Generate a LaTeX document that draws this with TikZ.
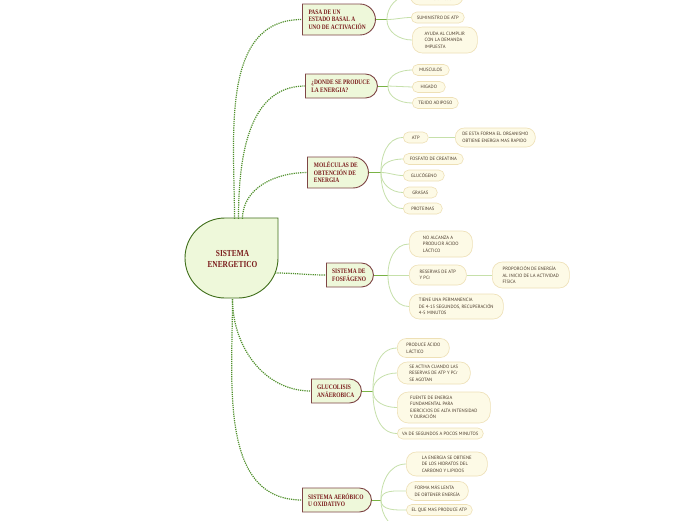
\documentclass[tikz,border=0pt]{standalone}
\usepackage{fontspec}
\setmainfont{PT Sans}
\newfontfamily\topicfont[FakeStretch=0.8]{Liberation Serif}
\usetikzlibrary{shapes.misc}

\definecolor{dotgreen}{HTML}{4F8F2A}
\definecolor{stemgreen}{HTML}{7AB345}
\definecolor{twiggreen}{HTML}{C6E0AA}
\definecolor{topicfill}{HTML}{EEF8DA}
\definecolor{topicline}{HTML}{7E4545}
\definecolor{topictext}{HTML}{7B1C1C}
\definecolor{coreline}{HTML}{3F6E1A}
\definecolor{leaffill}{HTML}{FDFAE6}
\definecolor{leafline}{HTML}{EEE0B6}
\definecolor{leaftext}{HTML}{4A3A2A}

\begin{document}
\begin{tikzpicture}[x=1pt, y=1pt,
    topic/.style={rounded rectangle, rounded rectangle west arc=none, draw=topicline, fill=topicfill, line width=0.9pt, align=left, anchor=west, font=\topicfont\bfseries\fontsize{6.8}{7.6}\selectfont, text=topictext, inner xsep=5pt, minimum height=24pt},
    leaf/.style={draw=leafline, fill=leaffill, line width=0.6pt, rounded corners=#1, align=left, anchor=west, font=\fontsize{4.7}{6.4}\selectfont, text=leaftext, inner sep=2pt, minimum height=11pt},
    leaf/.default=5.5pt,
    link/.style={dotgreen, line width=1.2pt, dash pattern=on 1.2pt off 1pt},
    stem/.style={stemgreen, line width=1pt},
    twig/.style={twiggreen, line width=0.8pt}
  ]
    \useasboundingbox (0,0) rectangle (696,-520);
    \fill[white] (0,0) rectangle (696,-520);
    \clip (0,0) rectangle (696,-520);

    % centre
    \draw[fill=topicfill, draw=coreline, line width=0.9pt] (278,-218) -- (278,-258) arc[start angle=0, end angle=-90, radius=40] -- (225,-298) arc[start angle=270, end angle=180, radius=40] arc[start angle=180, end angle=90, radius=40] -- cycle;
    \node[font=\topicfont\bfseries\fontsize{9.2}{10.5}\selectfont, text=topictext, align=center, minimum width=93pt, minimum height=80pt] (core) at (232.5,-259) {SISTEMA\\ENERGETICO};

    % main branches
    \node[topic, minimum width=83pt, minimum height=31pt] (pasa) at (302,-19.5) {PASA DE UN\\ESTADO BASAL A\\UNO DE ACTIVACIÓN};
    \node[topic, minimum width=82pt] (donde) at (305,-86) {¿DONDE SE PRODUCE\\LA ENERGIA?};
    \node[topic, minimum width=71pt, minimum height=31pt] (molec) at (307,-172.5) {MOLÉCULAS DE\\OBTENCIÓN DE\\ENERGIA};
    \node[topic, minimum width=57pt] (fosf) at (326,-275) {SISTEMA DE\\FOSFÁGENO};
    \node[topic, minimum width=60pt] (gluco) at (311,-391) {GLUCOLISIS\\ANÁEROBICA};
    \node[topic, minimum width=79pt] (aerob) at (302,-500) {SISTEMA AERÓBICO\\U OXIDATIVO};

    \coordinate (bpasa) at ([xshift=11pt]pasa.east);
    \coordinate (bdonde) at ([xshift=10pt]donde.east);
    \coordinate (bmolec) at ([xshift=12pt]molec.east);
    \coordinate (bfosf) at ([xshift=14pt]fosf.east);
    \coordinate (bgluco) at ([xshift=11pt]gluco.east);
    \coordinate (baerob) at ([xshift=9pt]aerob.east);

    % leaves
    \node[leaf=9pt, minimum width=53pt, minimum height=19pt] (cambios) at (410,4.5) {CAMBIOS FÍSICOS\\Y METABÓLICOS};
    \node[leaf, minimum width=53pt] (sumin) at (411,-17.5) {SUMINISTRO DE ATP};
    \node[leaf=10pt, minimum width=65pt, minimum height=26pt] (ayuda) at (412,-40) {AYUDA AL CUMPLIR\\CON LA DEMANDA\\IMPUESTA};

    \node[leaf, minimum width=37pt] (musc) at (412,-70) {MUSCULOS};
    \node[leaf, minimum width=33pt] (higado) at (412,-87) {HIGADO};
    \node[leaf, minimum width=46pt] (tejido) at (412,-103) {TEJIDO ADIPOSO};

    \node[leaf, minimum width=25pt] (atp) at (403,-137.5) {ATP};
    \node[leaf=9pt, minimum width=80pt, minimum height=19pt] (rapido) at (455,-137.5) {DE ESTA FORMA EL ORGANISMO\\OBTIENE ENERGIA MAS RAPIDO};
    \node[leaf, minimum width=60pt] (creat) at (403,-159) {FOSFATO DE CREATINA};
    \node[leaf, minimum width=41pt] (gluc) at (403,-175.5) {GLUCÓGENO};
    \node[leaf, minimum width=34pt] (grasas) at (403,-192.5) {GRASAS};
    \node[leaf, minimum width=39pt] (prot) at (403,-208.5) {PROTEINAS};

    \node[leaf=10pt, minimum width=63pt, minimum height=26pt] (lactico) at (409,-244) {NO ALCANZA A\\PRODUCIR ÁCIDO\\LÁCTICO};
    \node[leaf=9pt, minimum width=57pt, minimum height=20pt] (reserv) at (409,-275) {RESERVAS DE ATP\\Y PCr};
    \node[leaf=10pt, minimum width=77pt, minimum height=26pt] (propor) at (492,-275) {PROPORCIÓN DE ENERGÍA\\AL INICIO DE LA ACTIVIDAD\\FÍSICA};
    \node[leaf=10pt, minimum width=94pt, minimum height=25pt] (perman) at (409,-306.5) {TIENE UNA PERMANENCIA\\DE 4-15 SEGUNDOS, RECUPERACIÓN\\4-5 MINUTOS};

    \node[leaf=9pt, minimum width=52pt, minimum height=19pt] (produce) at (397,-348) {PRODUCE ÁCIDO\\LÁCTICO};
    \node[leaf=10pt, minimum width=73pt, minimum height=22pt] (activa) at (397,-373) {SE ACTIVA CUANDO LAS\\RESERVAS DE ATP Y PCr\\SE AGOTAN};
    \node[leaf=11pt, minimum width=93pt, minimum height=31pt] (fuente) at (397,-407.5) {FUENTE DE ENERGIA\\FUNDAMENTAL PARA\\EJERCICIOS DE ALTA INTENSIDAD\\Y DURACIÓN};
    \node[leaf, minimum width=86pt] (segund) at (397,-433.5) {VA DE SEGUNDOS A POCOS MINUTOS};

    \node[leaf=10pt, minimum width=81pt, minimum height=24pt] (obtiene) at (406,-464) {LA ENERGIA SE OBTIENE\\DE LOS HIDRATOS DEL\\CARBONO Y LIPIDOS};
    \node[leaf=9pt, minimum width=62pt, minimum height=19pt] (lenta) at (406,-491) {FORMA MÁS LENTA\\DE OBTENER ENERGÍA};
    \node[leaf, minimum width=66pt] (mas) at (406,-510) {EL QUE MAS PRODUCE ATP};
    \coordinate (aerobend) at (406,-530);

    % centre to branches
    \draw[link] ([xshift=2pt]core.north) to[out=90, in=180] (pasa.west);
    \draw[link] ([xshift=6pt]core.north) to[out=90, in=180] (donde.west);
    \draw[link] ([xshift=10pt]core.north) to[out=90, in=180] (molec.west);
    \draw[link] ([xshift=-4pt, yshift=-14pt]core.east) to[out=0, in=180] (fosf.west);
    \draw[link] (core.south) to[out=-90, in=180] (gluco.west);
    \draw[link] (core.south) to[out=-90, in=180] (aerob.west);

    % stems
    \draw[stem] (pasa.east) -- (bpasa);
    \draw[stem] (donde.east) -- (bdonde);
    \draw[stem] (molec.east) -- (bmolec);
    \draw[stem] (fosf.east) -- (bfosf);
    \draw[stem] (gluco.east) -- (bgluco);
    \draw[stem] (aerob.east) -- (baerob);

    % twigs
    \draw[twig] (bpasa) to[out=90, in=180] (cambios.west);
    \draw[twig] (bpasa) to[out=0, in=180] (sumin.west);
    \draw[twig] (bpasa) to[out=-90, in=180] (ayuda.west);

    \draw[twig] (bdonde) to[out=90, in=180] (musc.west);
    \draw[twig] (bdonde) -- (higado.west);
    \draw[twig] (bdonde) to[out=-90, in=180] (tejido.west);

    \draw[twig] (bmolec) to[out=90, in=180] (atp.west);
    \draw[twig] (atp.east) -- (rapido.west);
    \draw[twig] (bmolec) to[out=90, in=180] (creat.west);
    \draw[twig] (bmolec) to[out=0, in=180] (gluc.west);
    \draw[twig] (bmolec) to[out=-90, in=180] (grasas.west);
    \draw[twig] (bmolec) to[out=-90, in=180] (prot.west);

    \draw[twig] (bfosf) to[out=90, in=180] (lactico.west);
    \draw[twig] (bfosf) -- (reserv.west);
    \draw[twig] (reserv.east) -- (propor.west);
    \draw[twig] (bfosf) to[out=-90, in=180] (perman.west);

    \draw[twig] (bgluco) to[out=90, in=180] (produce.west);
    \draw[twig] (bgluco) to[out=90, in=180] (activa.west);
    \draw[twig] (bgluco) to[out=-90, in=180] (fuente.west);
    \draw[twig] (bgluco) to[out=-90, in=180] (segund.west);

    \draw[twig] (baerob) to[out=90, in=180] (obtiene.west);
    \draw[twig] (baerob) to[out=90, in=180] (lenta.west);
    \draw[twig] (baerob) to[out=-90, in=180] (mas.west);
    \draw[twig] (baerob) to[out=-90, in=180] (aerobend);
  \end{tikzpicture}
\end{document}
